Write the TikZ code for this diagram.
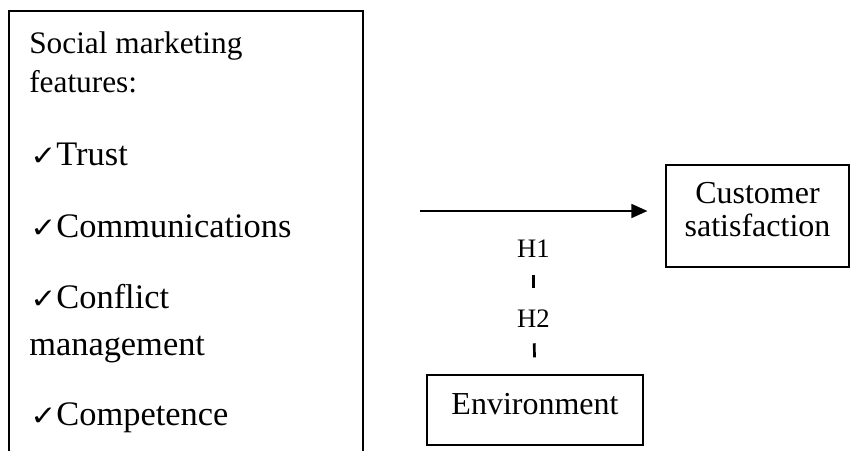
\documentclass[tikz,border=0pt]{standalone}
\usepackage{graphicx}
\usepackage{fontspec}
\setmainfont{Liberation Serif}
\newfontfamily\checkfont{DejaVu Sans}
\usetikzlibrary{arrows.meta}

\newcommand{\chk}{\scalebox{0.9}[0.8]{\checkfont\fontsize{26}{26}\selectfont ✓}}

\tikzset{
  box/.style={draw,line width=0.9pt,inner sep=0pt},
  head/.style={anchor=base west,inner sep=0pt,font=\fontsize{23.5}{28}\selectfont},
  item/.style={anchor=base west,inner sep=0pt,font=\fontsize{25.8}{30}\selectfont},
  txt/.style={inner sep=0pt,font=\fontsize{24}{24.75}\selectfont},
  hyp/.style={anchor=base,inner sep=0pt,font=\fontsize{20}{24}\selectfont},
  arr/.style={-{Triangle[length=12pt,width=10.5pt]},line width=1.3pt},
  tickline/.style={line width=2pt}
}

\begin{document}
\begin{tikzpicture}[x=0.75pt,y=-0.75pt]
  \useasboundingbox (0,0) rectangle (851,451);
  % features box, open at the bottom
  \draw [line width=0.9pt] (9,451) -- (9,11) -- (363,11) -- (363,451);
  \node [head] (soc)   at (29,53)  {Social marketing};
  \node [head] (feat)  at (29,92)  {features:};
  \node [item] (trust) at (30,165) {\chk Trust};
  \node [item] (comm)  at (30,237) {\chk Communications};
  \node [item] (confl) at (30,308) {\chk Conflict};
  \node [item] (mgmt)  at (29,355) {management};
  \node [item] (comp)  at (30,425) {\chk Competence};

  \node [box,minimum width=137.25pt,minimum height=76.5pt] (cust) at (757.5,216) {};
  \node [txt,align=center] (custtxt) at (757.5,210) {Customer\\satisfaction};
  \node [box,minimum width=162pt,minimum height=52.5pt] (env) at (535,410) {};
  \node [txt,anchor=base] (envtxt) at (535,414) {Environment};

  \node [hyp] (h1) at (533.5,257) {H1};
  \node [hyp] (h2) at (533.5,327) {H2};

  \coordinate (src) at (420,211);
  \draw [arr,shorten >=13.5pt] (src) -- (src -| cust.west);
  \draw [tickline,shorten <=13.5pt,shorten >=15.75pt] (h1) -- (h2);
  \draw [tickline,shorten <=12pt,shorten >=12.75pt] (h2) -- (env.north);
\end{tikzpicture}
\end{document}
